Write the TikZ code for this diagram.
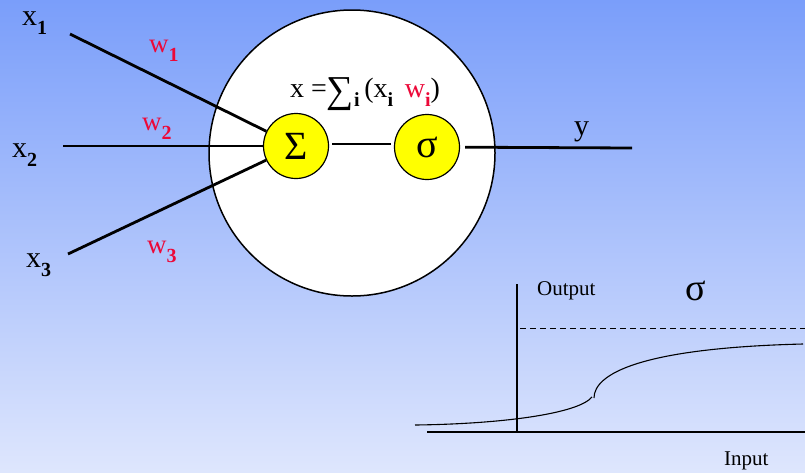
\documentclass[tikz,border=0pt]{standalone}
\usepackage{fontspec}
\setmainfont{Liberation Serif}
\definecolor{bgtop}{RGB}{122,158,250}
\definecolor{bgbot}{RGB}{222,230,253}
\definecolor{wred}{RGB}{236,8,56}
\definecolor{nyellow}{RGB}{255,255,0}
\newcommand\subb[1]{\raisebox{-9pt}{\fontsize{20}{20}\selectfont\bfseries #1}}
\tikzset{
  unit/.style={circle,draw=black,line width=1.2pt,fill=nyellow,minimum size=65pt,inner sep=0pt},
  wire/.style={line width=2.8pt,black},
  lbl/.style={anchor=base west,inner sep=0pt,font=\fontsize{30}{30}\selectfont},
  wlbl/.style={anchor=base west,inner sep=0pt,text=wred,font=\fontsize{27}{27}\selectfont},
  small/.style={anchor=base west,inner sep=0pt,font=\fontsize{21}{21}\selectfont}
}
\begin{document}
\begin{tikzpicture}[x=1pt,y=-1pt]
\useasboundingbox (0,0) rectangle (805,472);
\shade[top color=bgtop,bottom color=bgbot] (0,0) rectangle (805,472);
% cell
\node[circle,draw=black,line width=1.5pt,fill=white,minimum size=286pt,inner sep=0pt] (cell) at (352,153) {};
\node[unit,font=\fontsize{40}{40}\selectfont] (sum) at (296,146) {Σ};
\node[unit,font=\fontsize{40}{40}\selectfont] (sig) at (427,147) {\raisebox{-2pt}{σ}};
% inputs
\coordinate (i1) at (70,34);
\coordinate (i2) at (63,146);
\coordinate (i3) at (68,254);
\coordinate (yo) at (632,148);
\draw[wire] (i1) -- (sum);
\draw[wire] (i2) -- (sum);
\draw[wire] (i3) -- (sum);
\draw[wire,shorten <=3pt,shorten >=3pt] ([yshift=2pt]sum.east) -- ([yshift=3pt]sig.west);
\draw[wire,shorten <=5pt] (sig) -- (yo);
% labels
\node[lbl] (x1) at (22,25) {x\subb{1}};
\node[lbl] (x2) at (12,157) {x\subb{2}};
\node[lbl] (x3) at (26,267) {x\subb{3}};
\node[wlbl] (w1) at (149,52) {w\subb{1}};
\node[wlbl] (w2) at (142,130) {w\subb{2}};
\node[wlbl] (w3) at (147,253) {w\subb{3}};
\node[lbl] (y) at (574,135) {y};
\node[anchor=base west,inner sep=0pt,font=\fontsize{28}{28}\selectfont] (eq) at (290,97)
  {x =\raisebox{-5pt}{\fontsize{38}{38}\selectfont ∑}\subb{i}\,(x\subb{i}\, \textcolor{wred}{w\subb{i}})};
% graph
\coordinate (vtop) at (517,284);
\coordinate (vbot) at (517,433);
\coordinate (hl) at (427,432);
\coordinate (hr) at (805,432);
\draw[line width=2pt] (vtop) -- (vbot);
\draw[line width=2pt] (hl) -- (hr);
\coordinate (dl) at (520,328);
\coordinate (dr) at (805,328);
\draw[line width=0.9pt,dash pattern=on 6pt off 4pt] (dl) -- (dr);
\draw[line width=1.1pt] (415,425) .. controls (500,424) and (578,414) .. (592,397);
\draw[line width=1.1pt] (594,398) .. controls (594,374) and (640,348) .. (803,344);
\node[small] (out) at (537,295) {Output};
\node[small] (inp) at (724,465) {Input};
\node[anchor=base west,inner sep=0pt,font=\fontsize{38}{38}\selectfont] (gs) at (685,300) {σ};
\end{tikzpicture}
\end{document}
